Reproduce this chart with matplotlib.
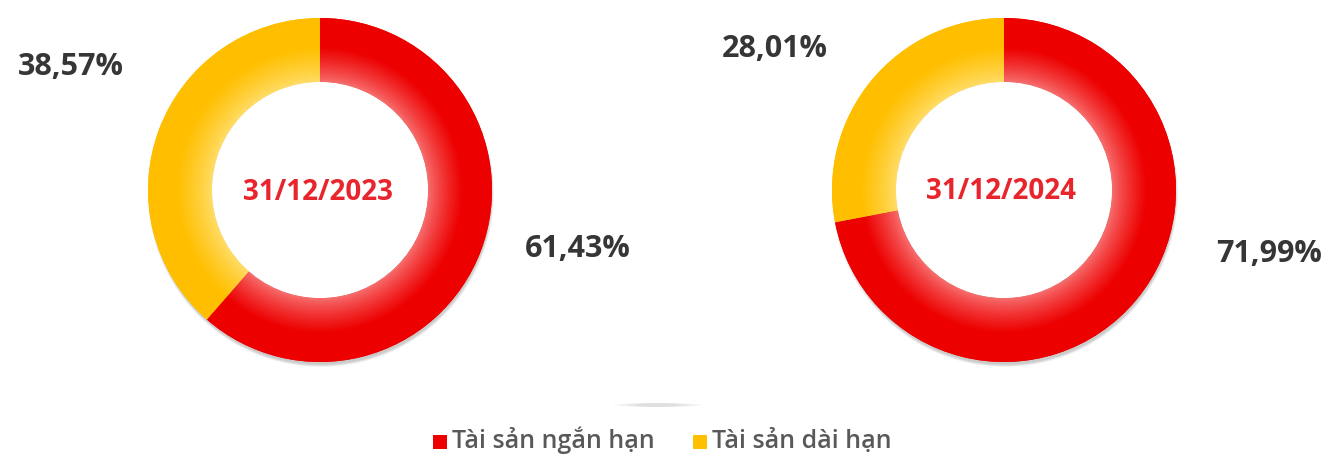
import numpy as np
import matplotlib.pyplot as plt
from matplotlib.patches import Circle, Ellipse, Rectangle

plt.rcParams['font.family'] = ['Open Sans', 'DejaVu Sans']

# data
dates = ['31/12/2023', '31/12/2024']
categories = ['Tài sản ngắn hạn', 'Tài sản dài hạn']
short_term = [61.43, 71.99]
long_term = [38.57, 28.01]

red = np.array([0.93, 0.0, 0.0])
red_light = np.array([0.97, 0.45, 0.45])
yellow = np.array([1.0, 0.75, 0.0])
yellow_light = np.array([1.0, 0.87, 0.42])

# donut layout in pixel coords (y up)
centers = [(320, 265), (1004, 265)]
r_out, r_in = 172, 108
label_pos = [((71, 380), (578, 198)), ((775, 398), (1269, 193))]
date_pos = [(318, 255), (1001, 256)]

fig = plt.figure(figsize=(13.26, 4.55), dpi=100)
ax = fig.add_axes([0, 0, 1, 1])


def ring_image(cx, cy, c_full, c_light):
    # radial gradient: light at inner edge, full colour towards outside
    xs = np.arange(cx - r_out - 2, cx + r_out + 2)
    ys = np.arange(cy - r_out - 2, cy + r_out + 2)
    X, Y = np.meshgrid(xs, ys)
    r = np.hypot(X - cx, Y - cy)
    t = np.clip((r - r_in) / (r_out - r_in) / 0.55, 0, 1)
    t = t ** 0.8
    img = c_light[None, None, :] * (1 - t[..., None]) + c_full[None, None, :] * t[..., None]
    ext = (xs[0], xs[-1], ys[0], ys[-1])
    return img, ext


for i, (cx, cy) in enumerate(centers):
    # soft shadow
    for k in range(6):
        ax.add_patch(Circle((cx + 1, cy - 4), r_out + 1 - k * 0.5, color='black',
                            alpha=0.035, lw=0, zorder=1))
    wedges, _ = ax.pie([short_term[i], long_term[i]], colors=['#EE0000', '#FFC000'],
                       startangle=90, counterclock=False, center=(cx, cy), radius=r_out,
                       wedgeprops=dict(width=r_out - r_in, linewidth=0))
    for w, cf, cl in zip(wedges, [red, yellow], [red_light, yellow_light]):
        w.set_zorder(2)
        img, ext = ring_image(cx, cy, cf, cl)
        im = ax.imshow(img, extent=ext, origin='lower', zorder=3, interpolation='bilinear')
        im.set_clip_path(w)
    ax.add_patch(Circle((cx, cy), r_in, color='white', lw=0, zorder=4))

    ax.text(*date_pos[i], dates[i], ha='center', va='baseline', fontsize=20,
            fontweight='bold', color='#E8252D', zorder=5)
    for (x, y), v in zip(label_pos[i], [long_term[i], short_term[i]]):
        ax.text(x, y, f'{v:.2f}%'.replace('.', ','), ha='center', va='baseline',
                fontsize=22, fontweight='bold', color='#363636')

# faint shadow artifact above legend
for k in range(4):
    ax.add_patch(Ellipse((658, 50), 90 - k * 15, 4, color='black', alpha=0.03, lw=0))

# legend
leg_x = [433, 693]
for x, c, name in zip(leg_x, ['#EE0000', '#FFC000'], categories):
    ax.add_patch(Rectangle((x, 6), 14, 14, color=c, lw=0))
    ax.text(x + 19, 7, name, ha='left', va='baseline', fontsize=18,
            fontweight='semibold', color='#595959')

ax.set_xlim(0, 1326)
ax.set_ylim(0, 455)
ax.set_aspect('auto')
ax.axis('off')

fig.savefig('out.png', dpi=100, facecolor='white')
